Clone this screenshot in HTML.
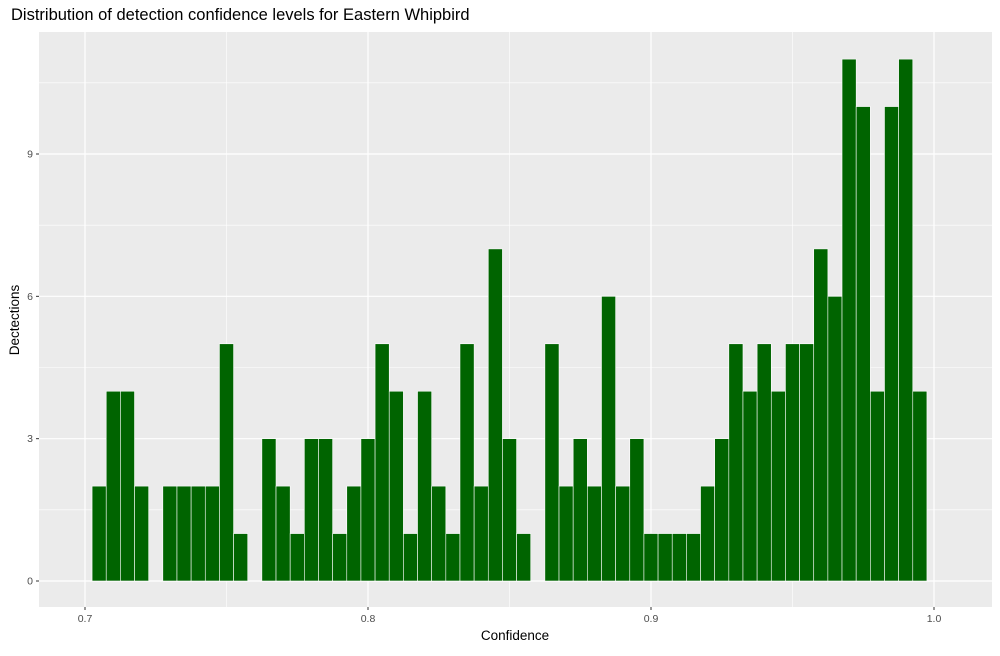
<!DOCTYPE html>
<html><head><meta charset="utf-8"><style>
body{margin:0;background:#fff;font-family:"Liberation Sans",sans-serif}
</style></head><body>
<svg width="1000" height="651" xmlns="http://www.w3.org/2000/svg">
<text x="11" y="20" font-size="16.5" fill="#000">Distribution of detection confidence levels for Eastern Whipbird</text>
<rect x="39" y="32" width="953" height="575" fill="#ebebeb"/>
<g id="grid"></g>
<g id="bars"></g>
<g id="axes"></g>
<text x="515" y="640" font-size="13.5" text-anchor="middle">Confidence</text>
<text transform="translate(19,320) rotate(-90)" font-size="13.5" text-anchor="middle">Dectections</text>
</svg>
<script>
const binCenters=[];for(let i=0;i<59;i++)binCenters.push(+(0.705+i*0.005).toFixed(3));
const counts=[2,4,4,2,0,2,2,2,2,5,1,0,3,2,1,3,3,1,2,3,5,4,1,4,2,1,5,2,7,3,1,0,5,2,3,2,6,2,3,1,1,1,1,2,3,5,4,5,4,5,5,7,6,11,10,4,10,11,4];
const binWidth=0.005;
const xTicks=[0.7,0.8,0.9,1.0];
const xTickLabels=["0.7","0.8","0.9","1.0"];
const yTicks=[0,3,6,9];
const xMinor=[0.75,0.85,0.95];
const yMinor=[1.5,4.5,7.5,10.5];
const NS="http://www.w3.org/2000/svg";
const X=v=>85+(v-0.7)/0.3*849;
const Y=v=>581-v*(581-154)/9;
function mk(p,t,a){const e=document.createElementNS(NS,t);for(const k in a)e.setAttribute(k,a[k]);p.appendChild(e);return e;}
const g=document.getElementById('grid'),b=document.getElementById('bars'),ax=document.getElementById('axes');
xMinor.forEach(v=>{const l=mk(g,'line',{x1:X(v),x2:X(v),y1:32,y2:607,stroke:'#fff','stroke-width':0.6});});
yMinor.forEach(v=>{const l=mk(g,'line',{x1:39,x2:992,y1:Y(v),y2:Y(v),stroke:'#fff','stroke-width':0.6});});
xTicks.forEach((v,i)=>{const l=mk(g,'line',{x1:X(v),x2:X(v),y1:32,y2:607,stroke:'#fff','stroke-width':1.2});
mk(ax,'line',{x1:X(v),x2:X(v),y1:607,y2:610,stroke:'#333','stroke-width':1});
const t=mk(ax,'text',{x:X(v),y:622,'font-size':10.5,fill:'#4d4d4d','text-anchor':'middle'});t.textContent=xTickLabels[i];});
yTicks.forEach(v=>{const l=mk(g,'line',{x1:39,x2:992,y1:Y(v),y2:Y(v),stroke:'#fff','stroke-width':1.2});
mk(ax,'line',{x1:36,x2:39,y1:Y(v),y2:Y(v),stroke:'#333','stroke-width':1});
const t=mk(ax,'text',{x:33,y:Y(v)+3.5,'font-size':10.5,fill:'#4d4d4d','text-anchor':'end'});t.textContent=v;});
binCenters.forEach((c,i)=>{if(!counts[i])return;const x0=X(c-binWidth/2),x1=X(c+binWidth/2);
const r=mk(b,'rect',{x:x0,y:Y(counts[i]),width:x1-x0,height:Y(0)-Y(counts[i]),fill:'#006400',stroke:'#fff','stroke-width':0.6});
});
</script>
</body></html>
